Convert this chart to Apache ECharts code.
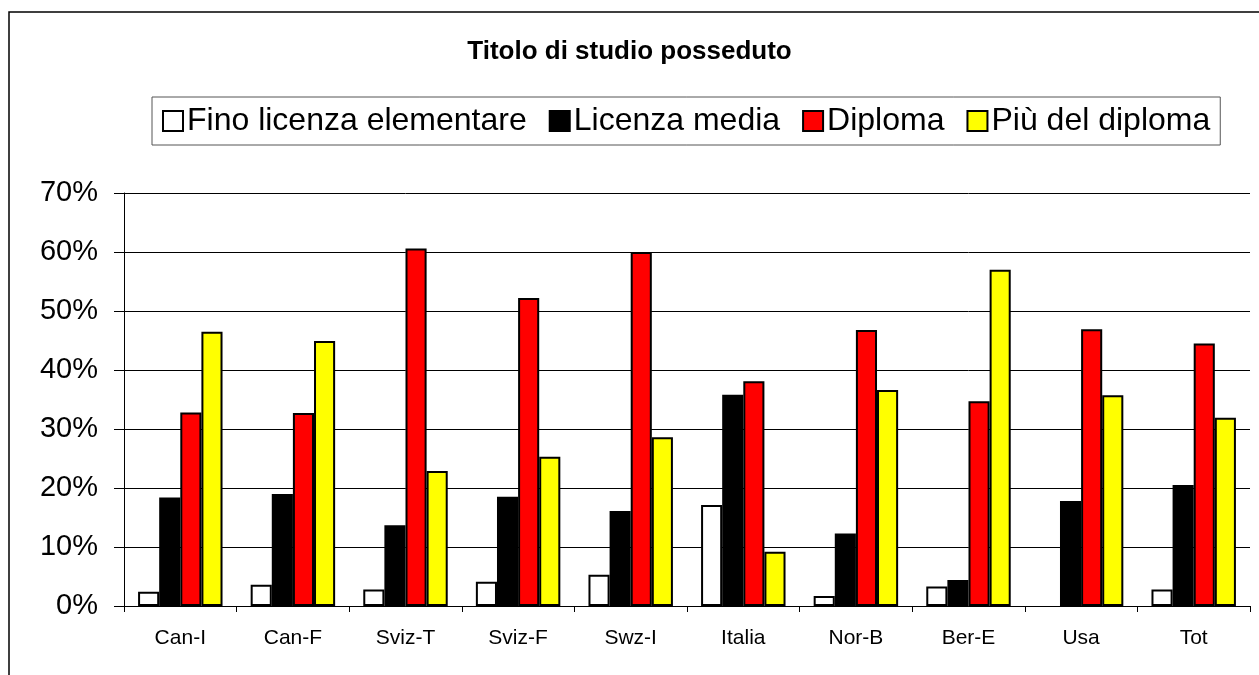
<!DOCTYPE html>
<html>
<head>
<meta charset="utf-8">
<script src="https://cdn.jsdelivr.net/npm/echarts@6/dist/echarts.min.js"></script>
<style>
  html, body { margin: 0; padding: 0; background: #fff; }
  #titoloChart { width: 1259px; height: 675px; }
</style>
</head>
<body>
<div id="titoloChart"></div>
<script>
// categorie (gruppi) e serie, valori in percentuale
const categorie = ['Can-I', 'Can-F', 'Sviz-T', 'Sviz-F', 'Swz-I', 'Italia', 'Nor-B', 'Ber-E', 'Usa', 'Tot'];
const finoElementare = [2.4, 3.6, 2.8, 4.1, 5.3, 17.1, 1.7, 3.3, null, 2.8];
const licenzaMedia   = [18.4, 19.0, 13.7, 18.5, 16.1, 35.8, 12.3, 4.4, 17.8, 20.5];
const diploma        = [32.8, 32.7, 60.6, 52.2, 60.0, 38.1, 46.8, 34.7, 46.9, 44.5];
const piuDelDiploma  = [46.5, 44.9, 22.9, 25.3, 28.6, 9.2, 36.6, 57.0, 35.7, 31.9];
const nomiSerie = ['Fino licenza elementare', 'Licenza media', 'Diploma', 'Più del diploma'];
const coloriSerie = ['#ffffff', '#000000', '#ff0000', '#ffff00'];
const tickY = [0, 10, 20, 30, 40, 50, 60, 70];

const chartDom = document.getElementById('titoloChart');
const myChart = echarts.init(chartDom);

const valori = [finoElementare, licenzaMedia, diploma, piuDelDiploma];
const series = nomiSerie.map((nome, i) => ({
  name: nome,
  type: 'bar',
  data: valori[i],
  barGap: '0%',
  barCategoryGap: '25%',
  itemStyle: { color: coloriSerie[i], borderColor: '#000', borderWidth: 2 },
  emphasis: { disabled: true }
}));

myChart.setOption({
  backgroundColor: '#fff',
  animation: false,
  textStyle: { fontFamily: 'Liberation Sans, Arial, sans-serif', color: '#000' },
  title: {
    text: 'Titolo di studio posseduto',
    left: 'center',
    top: 34,
    textStyle: { fontSize: 26, fontWeight: 'bold', color: '#000', fontFamily: 'Liberation Sans, Arial, sans-serif' }
  },
  legend: {
    left: 152,
    top: 97,
    padding: [8, 10, 8, 10],
    itemGap: 22,
    itemWidth: 20,
    itemHeight: 20,
    borderColor: '#555',
    borderWidth: 1,
    icon: 'rect',
    textStyle: { fontSize: 32, color: '#000', padding: [0, 0, 0, -1] },
    data: nomiSerie
  },
  graphic: [{
    type: 'rect',
    shape: { x: 9, y: 12, width: 1400, height: 800 },
    style: { fill: 'none', stroke: '#000', lineWidth: 1.5 },
    silent: true
  }],
  grid: { left: 124, right: 9, top: 193, bottom: 69 },
  xAxis: {
    type: 'category',
    data: categorie,
    axisLine: { lineStyle: { color: '#000', width: 1 } },
    axisTick: { show: true, length: 6, lineStyle: { color: '#000' } },
    axisLabel: { fontSize: 21, color: '#000', margin: 22 }
  },
  yAxis: {
    type: 'value',
    min: 0,
    max: 70,
    interval: 10,
    axisLine: { show: true, lineStyle: { color: '#000', width: 1 } },
    axisTick: { show: true, inside: false, length: 10, lineStyle: { color: '#000' } },
    axisLabel: { fontSize: 29, color: '#000', margin: 26, formatter: v => tickY.includes(v) ? v + '%' : '' },
    splitLine: { show: true, lineStyle: { color: '#000', width: 1 } }
  },
  series: series
});
</script>
</body>
</html>
